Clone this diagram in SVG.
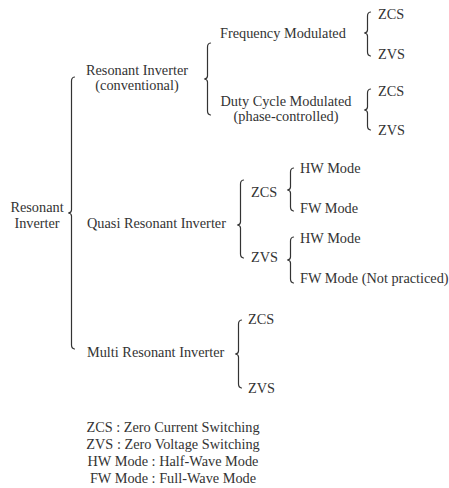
<svg xmlns="http://www.w3.org/2000/svg" width="449" height="488" viewBox="0 0 449 488">
<style>
text{font-family:"Liberation Serif","Times New Roman",serif;font-size:14.3px;fill:#333}
.c{text-anchor:middle}
.b{fill:none;stroke:#333;stroke-width:1.2;stroke-linecap:round;stroke-linejoin:round}
</style>
<rect width="449" height="488" fill="#fff"/>
<g id="connectors">
<path class="b" d="M74.5 77 Q71.5 77.5 71.5 81 L71.5 210 Q71.5 212.5 68.5 213 Q71.5 213.5 71.5 216 L71.5 345 Q71.5 348.5 74.5 349"/>
<path class="b" d="M210.5 43 Q207.5 43.5 207.5 47 L207.5 76 Q207.5 78.5 204.5 79 Q207.5 79.5 207.5 82 L207.5 111 Q207.5 114.5 210.5 115"/>
<path class="b" d="M370.5 12 Q367.5 12.5 367.5 16 L367.5 30 Q367.5 32.5 364.5 33 Q367.5 33.5 367.5 36 L367.5 52 Q367.5 55.5 370.5 56"/>
<path class="b" d="M370.5 89 Q367.5 89.5 367.5 93 L367.5 107 Q367.5 109.5 364.5 110 Q367.5 110.5 367.5 113 L367.5 126 Q367.5 129.5 370.5 130"/>
<path class="b" d="M243.5 180 Q240.5 180.5 240.5 184 L240.5 222 Q240.5 224.5 237.5 225 Q240.5 225.5 240.5 228 L240.5 254 Q240.5 257.5 243.5 258"/>
<path class="b" d="M293.5 168 Q290.5 168.5 290.5 172 L290.5 187 Q290.5 189.5 287.5 190 Q290.5 190.5 290.5 193 L290.5 207 Q290.5 210.5 293.5 211"/>
<path class="b" d="M293.5 237 Q290.5 237.5 290.5 241 L290.5 257 Q290.5 259.5 287.5 260 Q290.5 260.5 290.5 263 L290.5 279 Q290.5 282.5 293.5 283"/>
<path class="b" d="M241.5 320 Q238.5 320.5 238.5 324 L238.5 351 Q238.5 353.5 235.5 354 Q238.5 354.5 238.5 357 L238.5 384 Q238.5 387.5 241.5 388"/>
</g>
<g id="root"><text class="c" x="37" y="212">Resonant</text><text class="c" x="37" y="228">Inverter</text></g>
<g id="conventional"><text class="c" x="137" y="75">Resonant Inverter</text><text class="c" x="137" y="90">(conventional)</text></g>
<g id="fm"><text x="220" y="38">Frequency Modulated</text></g>
<g id="fm-zcs"><text x="378" y="19">ZCS</text></g>
<g id="fm-zvs"><text x="378" y="59">ZVS</text></g>
<g id="dcm"><text class="c" x="286" y="106">Duty Cycle Modulated</text><text class="c" x="286" y="121">(phase-controlled)</text></g>
<g id="dcm-zcs"><text x="378" y="96">ZCS</text></g>
<g id="dcm-zvs"><text x="378" y="135">ZVS</text></g>
<g id="quasi"><text x="87" y="228">Quasi Resonant Inverter</text></g>
<g id="quasi-zcs"><text x="251" y="197">ZCS</text></g>
<g id="quasi-zvs"><text x="251" y="262">ZVS</text></g>
<g id="zcs-hw"><text x="300" y="173">HW Mode</text></g>
<g id="zcs-fw"><text x="300" y="213">FW Mode</text></g>
<g id="zvs-hw"><text x="300" y="243">HW Mode</text></g>
<g id="zvs-fw"><text x="300" y="283">FW Mode (Not practiced)</text></g>
<g id="multi"><text x="87" y="357">Multi Resonant Inverter</text></g>
<g id="multi-zcs"><text x="248" y="324">ZCS</text></g>
<g id="multi-zvs"><text x="248" y="393">ZVS</text></g>
<g id="legend">
<text class="c" x="173" y="432">ZCS : Zero Current Switching</text>
<text class="c" x="173" y="449">ZVS : Zero Voltage Switching</text>
<text class="c" x="173" y="466">HW Mode : Half-Wave Mode</text>
<text class="c" x="173" y="483">FW Mode : Full-Wave Mode</text>
</g>
</svg>
